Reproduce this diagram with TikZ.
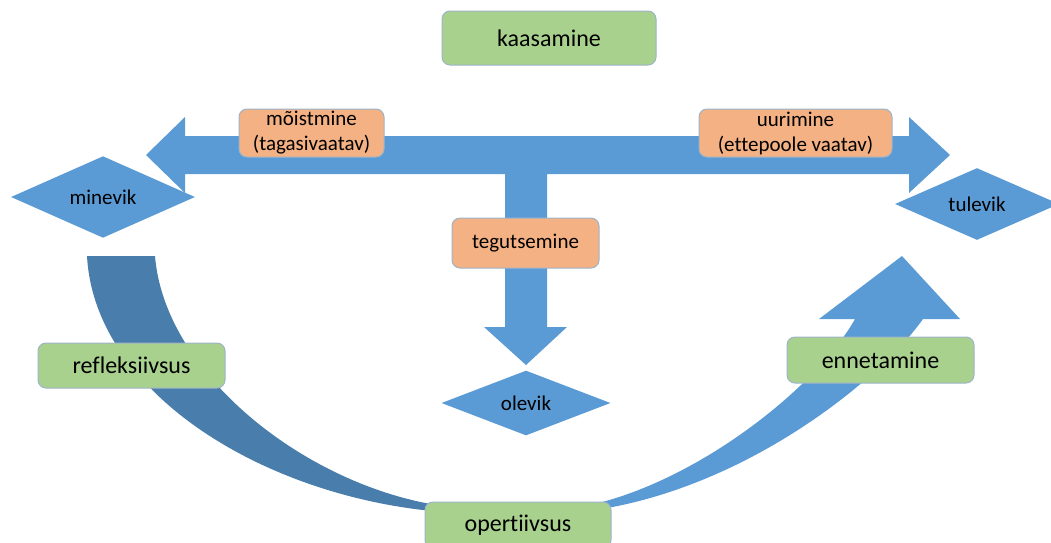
\documentclass[tikz,border=0pt]{standalone}
\usepackage{fontspec}
\setmainfont{Carlito}[Ligatures={NoCommon,NoContextual}]
\usepackage{xcolor}
\usepackage{tikz}
\usetikzlibrary{shapes.geometric}

\definecolor{arrowblue}{HTML}{5B9BD5}
\definecolor{darkblue}{HTML}{497DAC}
\definecolor{boxgreen}{HTML}{A9D18E}
\definecolor{boxorange}{HTML}{F4B183}
\definecolor{boxline}{HTML}{9DB3C9}

\begin{document}
\begin{tikzpicture}[x=1pt,y=-1pt,
    greenbox/.style={draw=boxline, line width=1pt, fill=boxgreen, rounded corners=8pt,
        inner sep=0pt, font=\fontsize{24}{26}\selectfont},
    orangebox/.style={draw=boxline, line width=1pt, fill=boxorange, rounded corners=8pt,
        inner sep=0pt, align=center, font=\fontsize{21}{25}\selectfont},
    timediamond/.style={diamond, fill=arrowblue, inner sep=0pt,
        font=\fontsize{21}{24}\selectfont}]
    \useasboundingbox (0,0) rectangle (1051,542);
        \fill[arrowblue] (146,155) -- (185,117) -- (185,136) -- (909,136) -- (909,117)
            -- (950,155) -- (909,193) -- (909,174) -- (547,174) -- (547,327) -- (567,327)
            -- (526,365) -- (484,327) -- (505,327) -- (505,174) -- (185,174) -- (185,193) -- cycle;
        \fill[darkblue] (87,256) .. controls (95,400) and (280,505) .. (460,513)
            -- (460,508) .. controls (320,496) and (165,380) .. (155,256) -- cycle;
        \fill[arrowblue] (580,512) .. controls (740,494) and (880,380) .. (923,319)
            -- (960,319) -- (902,256) -- (819,319) -- (855,319)
            .. controls (815,390) and (690,487) .. (580,507) -- cycle;
        \node[timediamond, minimum width=184, minimum height=68] (minevik) at (103,197) {minevik};
        \node[timediamond, minimum width=164, minimum height=64] (tulevik) at (977,204) {tulevik};
        \node[timediamond, minimum width=169, minimum height=64] (olevik) at (526,403) {olevik};
        \node[greenbox, minimum width=214, minimum height=54] (kaasamine) at (549,38) {kaasamine};
        \node[greenbox, minimum width=187, minimum height=45] (refleksiivsus) at (131.5,365.5) {refleksiivsus};
        \node[greenbox, minimum width=187, minimum height=46] (ennetamine) at (880.5,360) {ennetamine};
        \node[greenbox, minimum width=186, minimum height=46] (opertiivsus) at (518,525) {opertiivsus};
        \node[orangebox, minimum width=145, minimum height=48] (moistmine) at (311.5,133) {mõistmine\\(tagasivaatav)};
        \node[orangebox, minimum width=193, minimum height=48] (uurimine) at (795.5,133) {uurimine\\(ettepoole vaatav)};
        \node[orangebox, minimum width=147, minimum height=50] (tegutsemine) at (525.5,243) {tegutsemine};
\end{tikzpicture}
\end{document}
